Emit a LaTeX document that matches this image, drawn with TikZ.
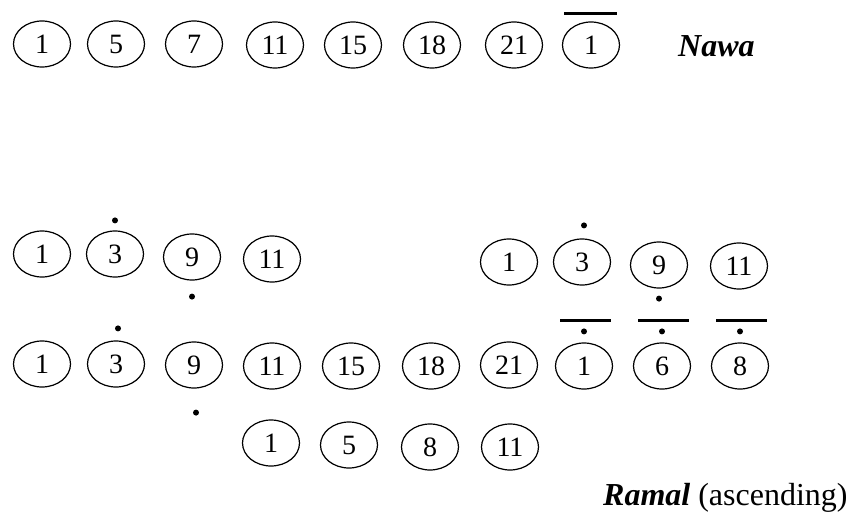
\documentclass[tikz,border=0pt]{standalone}
\usepackage{fontspec}
\setmainfont{Liberation Serif}
\usetikzlibrary{shapes.geometric}
\begin{document}
\begin{tikzpicture}[x=1pt,y=-1pt,
  note/.style={draw, ellipse, minimum width=57pt, minimum height=46pt, inner sep=0pt, line width=1.2pt, font=\fontsize{28}{28}\selectfont},
  label/.style={font=\fontsize{32}{32}\selectfont, inner sep=0pt},
  dotmark/.style={fill=black},
  barmark/.style={line width=3pt}]
\useasboundingbox (0,0) rectangle (854,516);
% Nawa row
\node[note] (t1) at (42,44) {1};
\node[note] (t2) at (116,44) {5};
\node[note] (t3) at (194,44) {7};
\node[note] (t4) at (275,45) {11};
\node[note] (t5) at (353,45) {15};
\node[note] (t6) at (432,45) {18};
\node[note] (t7) at (514,45) {21};
\node[note] (t8) at (591,45) {1};
\draw[barmark] ([xshift=-27pt,yshift=8pt]t8.north) -- ([xshift=26pt,yshift=8pt]t8.north);
\node[label, anchor=base west] (nawa) at (678,57) {\textbf{\textit{Nawa}}};
% Row 2 left
\node[note] (a1) at (42,254) {1};
\node[note] (a2) at (115,254) {3};
\node[note] (a3) at (192,257) {9};
\node[note] (a4) at (272,259) {11};
\fill[dotmark] ([yshift=10pt]a2.north) circle (3pt);
\fill[dotmark] ([yshift=-16pt]a3.south) circle (3pt);
% Row 2 right
\node[note] (b1) at (509,262) {1};
\node[note] (b2) at (582,262) {3};
\node[note] (b3) at (659,265) {9};
\node[note] (b4) at (739,266) {11};
\fill[dotmark] ([xshift=2pt,yshift=13pt]b2.north) circle (3pt);
\fill[dotmark] ([yshift=-10pt]b3.south) circle (3pt);
% Row 3
\node[note] (c1) at (42,364) {1};
\node[note] (c2) at (116,364) {3};
\node[note] (c3) at (194,365) {9};
\node[note] (c4) at (272,366) {11};
\node[note] (c5) at (351,366) {15};
\node[note] (c6) at (431,366) {18};
\node[note] (c7) at (509,365) {21};
\node[note] (c8) at (584,366) {1};
\node[note] (c9) at (662,366) {6};
\node[note] (c10) at (740,366) {8};
\fill[dotmark] ([xshift=2pt,yshift=12pt]c2.north) circle (3pt);
\fill[dotmark] ([xshift=2pt,yshift=-24pt]c3.south) circle (3pt);
\foreach \n in {c8,c9,c10}{
  \fill[dotmark] ([yshift=11pt]\n.north) circle (3pt);
  \draw[barmark] ([xshift=-24pt,yshift=22pt]\n.north) -- ([xshift=27pt,yshift=22pt]\n.north);
}
% Row 4
\node[note] (d1) at (271,443) {1};
\node[note] (d2) at (349,445) {5};
\node[note] (d3) at (430,447) {8};
\node[note] (d4) at (510,447) {11};
\node[label, anchor=base west] (ramal) at (603,505) {\textbf{\textit{Ramal}} (ascending)};
\end{tikzpicture}
\end{document}
